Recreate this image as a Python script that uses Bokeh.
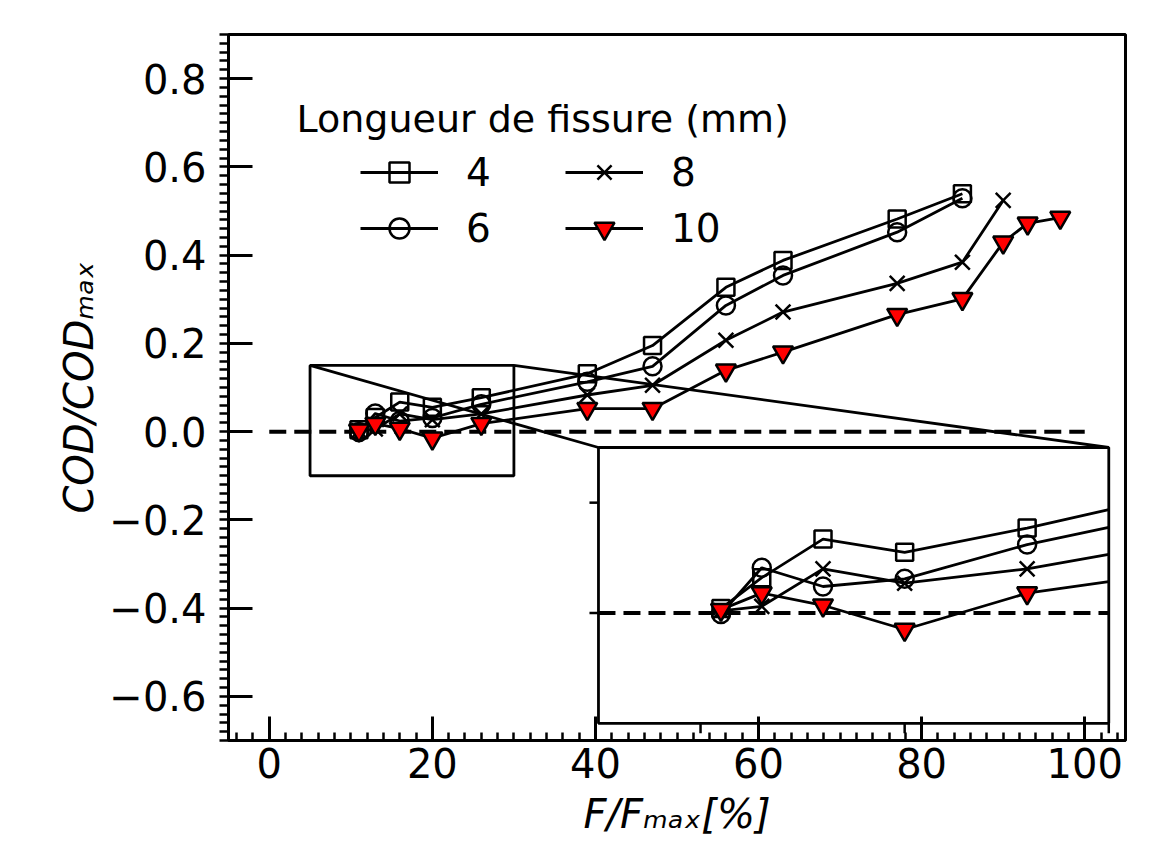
import numpy as np
from bokeh.plotting import figure
from bokeh.models import (Range1d, FixedTicker, CustomJSTickFormatter, Legend,
                          LegendItem, Label)
from bokeh.embed import file_html
from bokeh.resources import INLINE

# ---------------- data ----------------
x_4 = [11, 13, 16, 20, 26, 39, 47, 56, 63, 77, 85]
y_4 = [0.004, 0.032, 0.067, 0.055, 0.077, 0.131, 0.195, 0.327, 0.388, 0.482, 0.539]
x_6 = [11, 13, 16, 20, 26, 39, 47, 56, 63, 77, 85]
y_6 = [-0.001, 0.041, 0.024, 0.031, 0.062, 0.113, 0.148, 0.286, 0.354, 0.452, 0.529]
x_8 = [11, 13, 16, 20, 26, 39, 47, 56, 63, 77, 85, 90]
y_8 = [0.002, 0.006, 0.040, 0.027, 0.040, 0.083, 0.105, 0.207, 0.271, 0.336, 0.384, 0.524]
x_10 = [11, 13, 16, 20, 26, 39, 47, 56, 63, 77, 85, 90, 93, 97]
y_10 = [0.003, 0.018, 0.007, -0.015, 0.018, 0.052, 0.052, 0.139, 0.180, 0.265, 0.301, 0.429, 0.472, 0.485]
series_labels = ["4", "6", "8", "10"]

x_ticks = [0, 20, 40, 60, 80, 100]
y_ticks = [-0.6, -0.4, -0.2, 0.0, 0.2, 0.4, 0.6, 0.8]
ref_x = [0, 100]
ref_y = [0, 0]

XR = (-5, 105)
YR = (-0.7, 0.9)
INSET_XLIM = (5, 30)
INSET_YLIM = (-0.1, 0.15)
inset_x_ticks = [10, 20, 30]
inset_y_ticks = [0.0, 0.1]

# ---------------- layout constants ----------------
W, H = 1160, 854
B_L, B_T = 228, 34
FW, FH = 897, 706
B_R, B_B = W - B_L - FW, H - B_T - FH
INSET_BOX_X = (40.37, 102.95)   # inset frame in main data coords
INSET_BOX_Y = (-0.661, -0.036)
FONT = "DejaVu Sans"
FS_TICK = "40px"
FS_LEG = "39px"
FS_TITLE = "38px"
LW = 2.8
MLW = 2.5

def mx(px):  # page pixel -> main data x
    return XR[0] + (px - B_L) / FW * (XR[1] - XR[0])

def my(py):
    return YR[1] - (py - B_T) / FH * (YR[1] - YR[0])

def lin(v, a0, a1, b0, b1):
    return b0 + (v - a0) * (b1 - b0) / (a1 - a0)

p = figure(width=W, height=H, x_range=Range1d(*XR), y_range=Range1d(*YR),
           min_border_left=B_L, min_border_right=B_R, min_border_top=B_T,
           min_border_bottom=B_B, output_backend="svg", toolbar_location=None)
p.background_fill_color = "white"
p.border_fill_color = "white"
p.grid.visible = False
p.outline_line_color = "black"
p.outline_line_width = 3

p.extra_x_ranges = {"inset": Range1d(lin(XR[0], *INSET_BOX_X, *INSET_XLIM),
                                     lin(XR[1], *INSET_BOX_X, *INSET_XLIM))}
p.extra_y_ranges = {"inset": Range1d(lin(YR[0], *INSET_BOX_Y, *INSET_YLIM),
                                     lin(YR[1], *INSET_BOX_Y, *INSET_YLIM))}

# axes
xa = p.xaxis[0]
xa.ticker = FixedTicker(ticks=x_ticks, minor_ticks=list(np.arange(-4, 105, 2)))
xa.formatter = CustomJSTickFormatter(code="return tick.toFixed(0).replace('-', '\u2212')")
ya = p.yaxis[0]
ya.ticker = FixedTicker(ticks=y_ticks, minor_ticks=list(np.round(np.arange(-0.7, 0.901, 0.02), 2)))
ya.formatter = CustomJSTickFormatter(code="return tick.toFixed(1).replace('-', '\u2212')")
for ax in (xa, ya):
    ax.axis_line_width = 3
    ax.axis_line_color = "black"
    ax.major_tick_line_width = 3
    ax.minor_tick_line_width = 2.5
    ax.major_tick_line_color = "black"
    ax.minor_tick_line_color = "black"
    ax.major_label_text_font = FONT
    ax.major_label_text_font_size = FS_TICK
    ax.major_label_text_color = "black"
    ax.major_tick_in = 24
    ax.major_tick_out = 0
    ax.axis_label_text_font = FONT
    ax.axis_label_text_font_size = "40px"
    ax.axis_label_text_font_style = "italic"
    ax.axis_label_text_color = "black"
xa.minor_tick_in = 8
xa.minor_tick_out = 0
xa.major_label_standoff = 7
xa.axis_label = "F/F\u2098\u2090\u2093[%]"
xa.axis_label_standoff = 10
ya.minor_tick_in = 0
ya.minor_tick_out = 9
ya.major_label_standoff = 13
ya.axis_label = "COD/COD\u2098\u2090\u2093"
ya.axis_label_standoff = 4

# reference line
p.line(ref_x, ref_y, line_color="black", line_width=4, line_dash="17 8")

styles = [
    dict(marker="square", size=17, fill_color=None),
    dict(marker="circle", size=18, fill_color=None),
    dict(marker="x", size=21, fill_color=None),
    dict(marker="inverted_triangle", size=20, fill_color="red"),
]
data = [(x_4, y_4), (x_6, y_6), (x_8, y_8), (x_10, y_10)]

main_r = []
for (xs, ys), st in zip(data, styles):
    lr = p.line(xs, ys, line_color="black", line_width=LW)
    sr = p.scatter(xs, ys, marker=st["marker"], size=st["size"], fill_color=st["fill_color"],
                   line_color="black", line_width=MLW)
    main_r.append((lr, sr))

# zoom rectangle and connectors
p.quad(left=[INSET_XLIM[0]], right=[INSET_XLIM[1]], bottom=[INSET_YLIM[0]], top=[INSET_YLIM[1]],
       fill_color=None, line_color="black", line_width=LW)
p.segment(x0=[INSET_XLIM[0], INSET_XLIM[1]], y0=[INSET_YLIM[1], INSET_YLIM[1]],
          x1=[INSET_BOX_X[0], INSET_BOX_X[1]], y1=[INSET_BOX_Y[1], INSET_BOX_Y[1]],
          line_color="black", line_width=LW)

# inset
ik = dict(x_range_name="inset", y_range_name="inset")
p.quad(left=[INSET_XLIM[0]], right=[INSET_XLIM[1]], bottom=[INSET_YLIM[0]], top=[INSET_YLIM[1]],
       fill_color="white", line_color="black", line_width=LW, **ik)
p.line(list(INSET_XLIM), ref_y, line_color="black", line_width=4, line_dash="17 8", **ik)
for (xs, ys), st in zip(data, styles):
    xs_a, ys_a = np.array(xs, float), np.array(ys, float)
    m = xs_a <= INSET_XLIM[1]
    lx, ly = xs_a[m], ys_a[m]
    if xs_a.max() > INSET_XLIM[1]:
        lx = np.append(lx, INSET_XLIM[1])
        ly = np.append(ly, np.interp(INSET_XLIM[1], xs_a, ys_a))
    p.line(lx, ly, line_color="black", line_width=LW, **ik)
    p.scatter(xs_a[m], ys_a[m], marker=st["marker"], size=st["size"], fill_color=st["fill_color"],
              line_color="black", line_width=MLW, **ik)
p.ray(x=inset_x_ticks, y=[INSET_YLIM[0]] * len(inset_x_ticks), length=10, angle=-np.pi / 2,
      length_units="screen", line_color="black", line_width=2.5, **ik)
p.ray(x=[INSET_XLIM[0]] * len(inset_y_ticks), y=inset_y_ticks, length=9, angle=np.pi,
      length_units="screen", line_color="black", line_width=2.5, **ik)

# legends
leg_kw = dict(border_line_color=None, background_fill_alpha=0, padding=0, margin=0,
              spacing=6, glyph_width=78, glyph_height=50, label_height=50,
              label_standoff=28, label_text_font=FONT, label_text_font_size=FS_LEG,
              label_text_color="black")
leg1 = Legend(items=[LegendItem(label=series_labels[0], renderers=list(main_r[0])),
                     LegendItem(label=series_labels[1], renderers=list(main_r[1]))],
              location=(132, 487), **leg_kw)
leg2 = Legend(items=[LegendItem(label=series_labels[2], renderers=list(main_r[2])),
                     LegendItem(label=series_labels[3], renderers=list(main_r[3]))],
              location=(337, 487), **leg_kw)
p.add_layout(leg1)
p.add_layout(leg2)

p.add_layout(Label(x=mx(296), y=my(118), text="Longueur de fissure (mm)", text_font=FONT,
                   text_font_size=FS_TITLE, text_color="black", text_baseline="alphabetic",
                   text_align="left"))

open("out.html", "w").write(file_html(p, INLINE))
